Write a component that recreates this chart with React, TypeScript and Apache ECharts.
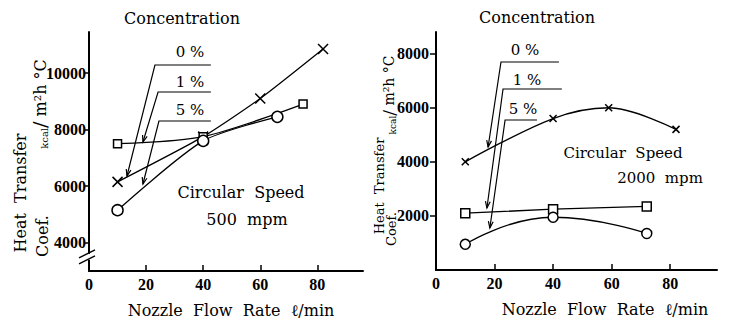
import React, { useEffect, useRef } from "react";
import * as echarts from "echarts";

// ---- tick values ----
const xTickValues = [0, 20, 40, 60, 80];
const leftYTickValues = [4000, 6000, 8000, 10000];
const rightYTickValues = [2000, 4000, 6000, 8000];
const concentrationLabels = ["0 %", "1 %", "5 %"];

// ---- Circular speed 500 mpm ----
const left0X = [10, 40, 60, 82];
const left0Y = [6150, 7750, 9100, 10850];
const left1X = [10, 40, 75];
const left1Y = [7500, 7750, 8900];
const left5X = [10, 40, 66];
const left5Y = [5150, 7600, 8450];

// ---- Circular speed 2000 mpm ----
const right0X = [10, 40, 59, 82];
const right0Y = [4000, 5600, 6000, 5200];
const right1X = [10, 40, 72];
const right1Y = [2100, 2250, 2350];
const right5X = [10, 40, 72];
const right5Y = [950, 1950, 1350];

// ---- leader annotations (data units): label x, label y, bar y, bar x0, bar x1, tip x, tip y ----
const leftNoteLabelX = [35.4, 35.4, 35.4];
const leftNoteLabelY = [10743, 9682, 8693];
const leftNoteBarY = [10283, 9329, 8304];
const leftNoteBarX0 = [23.1, 24.2, 24.5];
const leftNoteBarX1 = [42.7, 42.7, 42.7];
const leftNoteTipX = [13.3, 18.9, 18.9];
const leftNoteTipY = [6359, 7561, 6076];

const rightNoteLabelX = [30.4, 31.1, 29.7];
const rightNoteLabelY = [8135, 7025, 5953];
const rightNoteBarY = [7691, 6693, 5546];
const rightNoteBarX0 = [22.2, 22.9, 23.6];
const rightNoteBarX1 = [42.0, 43.0, 34.5];
const rightNoteTipX = [17.8, 17.4, 18.4];
const rightNoteTipY = [4548, 2292, 1553];

const zip = (xs: number[], ys: number[]) => xs.map((x, i) => [x, ys[i]]);

const SERIF = "DejaVu Serif";
const TICKFONT = "Liberation Serif";
const CROSS = "path://M0,0L10,10M10,0L0,10";

function lineSeries(
  grid: number,
  xs: number[],
  ys: number[],
  symbol: string,
  size: number,
  smooth: number | boolean
) {
  return {
    type: "line",
    xAxisIndex: grid,
    yAxisIndex: grid,
    data: zip(xs, ys),
    symbol,
    symbolSize: size,
    smooth,
    showSymbol: true,
    lineStyle: { color: "#000", width: 1.3 },
    itemStyle: { color: "#fff", borderColor: "#000", borderWidth: 1.5 },
    emphasis: { disabled: true },
    z: 3,
  };
}

const plain = (v: number) => String(v);

function xAxisDef(grid: number) {
  return {
    type: "value",
    gridIndex: grid,
    min: 0,
    max: 96,
    axisLine: { show: true, onZero: false, lineStyle: { color: "#000", width: 2 } },
    axisTick: {
      show: true,
      inside: true,
      length: 6,
      customValues: xTickValues,
      lineStyle: { color: "#000", width: 1.5 },
    },
    axisLabel: {
      customValues: xTickValues,
      formatter: plain,
      margin: 5,
      color: "#000",
      fontFamily: TICKFONT,
      fontWeight: "bold",
      fontSize: 16,
    },
    splitLine: { show: false },
  };
}

function yAxisDef(grid: number, min: number, max: number, ticks: number[], tickLen: number, margin: number) {
  return {
    type: "value",
    gridIndex: grid,
    min,
    max,
    axisLine: { show: true, onZero: false, lineStyle: { color: "#000", width: 2 } },
    axisTick: {
      show: true,
      inside: false,
      length: tickLen,
      customValues: ticks,
      lineStyle: { color: "#000", width: 1.5 },
    },
    axisLabel: {
      customValues: ticks,
      formatter: plain,
      margin,
      color: "#000",
      fontFamily: TICKFONT,
      fontWeight: "bold",
      fontSize: 16,
    },
    splitLine: { show: false },
  };
}

function txt(x: number, y: number, text: string, size: number, extra: any = {}, weight = "normal") {
  return {
    type: "text",
    x,
    y,
    silent: true,
    z: 10,
    ...extra,
    style: {
      text,
      fill: "#000",
      fontFamily: SERIF,
      fontSize: size,
      fontWeight: weight,
      align: "center",
      verticalAlign: "middle",
    },
  };
}

export default function App() {
  const ref = useRef<HTMLDivElement>(null);

  useEffect(() => {
    if (!ref.current) return;
    const chart = echarts.init(ref.current, null, { renderer: "svg" });
    chart.setOption({
      animation: false,
      backgroundColor: "#fff",
      grid: [
        { left: 89, right: 370, top: 32, bottom: 48 },
        { left: 436, right: 16, top: 32, bottom: 49 },
      ],
      xAxis: [xAxisDef(0), xAxisDef(1)],
      yAxis: [
        yAxisDef(0, 3000, 11450, leftYTickValues, 4, 3),
        yAxisDef(1, 0, 8800, rightYTickValues, 6, 7),
      ],
      series: [
        lineSeries(0, left0X, left0Y, CROSS, 10, 0.2),
        lineSeries(0, left1X, left1Y, "rect", 8, 0.3),
        lineSeries(0, left5X, left5Y, "circle", 11, 0.25),
        lineSeries(1, right0X, right0Y, CROSS, 7, 0.35),
        lineSeries(1, right1X, right1Y, "rect", 9, false),
        lineSeries(1, right5X, right5Y, "circle", 10, 0.5),
      ],
    });

    const px = (g: number, x: number, y: number) =>
      chart.convertToPixel({ gridIndex: g } as any, [x, y]) as number[];

    const els: any[] = [];
    const stroke = { stroke: "#000", lineWidth: 1.2, fill: "none" };

    const addNotes = (
      g: number,
      lx: number[],
      ly: number[],
      by: number[],
      bx0: number[],
      bx1: number[],
      tx: number[],
      ty: number[],
      fontSize: number
    ) => {
      concentrationLabels.forEach((label, i) => {
        const l = px(g, lx[i], ly[i]);
        els.push(txt(l[0], l[1], label, fontSize));
        const a = px(g, bx0[i], by[i]);
        const b = px(g, bx1[i], by[i]);
        const t = px(g, tx[i], ty[i]);
        els.push({
          type: "polyline",
          silent: true,
          z: 10,
          shape: { points: [b, a, t] },
          style: stroke,
        });
        const dx = t[0] - a[0];
        const dy = t[1] - a[1];
        const len = Math.hypot(dx, dy);
        const ux = dx / len;
        const uy = dy / len;
        const L = 7;
        const ang = 0.35;
        const w1 = [
          t[0] - L * (ux * Math.cos(ang) - uy * Math.sin(ang)),
          t[1] - L * (uy * Math.cos(ang) + ux * Math.sin(ang)),
        ];
        const w2 = [
          t[0] - L * (ux * Math.cos(-ang) - uy * Math.sin(-ang)),
          t[1] - L * (uy * Math.cos(-ang) + ux * Math.sin(-ang)),
        ];
        els.push({
          type: "polyline",
          silent: true,
          z: 10,
          shape: { points: [w1, t, w2] },
          style: stroke,
        });
      });
    };

    addNotes(0, leftNoteLabelX, leftNoteLabelY, leftNoteBarY, leftNoteBarX0, leftNoteBarX1, leftNoteTipX, leftNoteTipY, 15);
    addNotes(1, rightNoteLabelX, rightNoteLabelY, rightNoteBarY, rightNoteBarX0, rightNoteBarX1, rightNoteTipX, rightNoteTipY, 15);

    // axis break on left y axis
    const br = px(0, 0, 3500);
    els.push({
      type: "rect",
      silent: true,
      z: 11,
      shape: { x: br[0] - 3, y: br[1] - 3, width: 6, height: 6 },
      style: { fill: "#fff" },
    });
    [-3, 3].forEach((off) => {
      els.push({
        type: "line",
        silent: true,
        z: 12,
        shape: { x1: br[0] - 10, y1: br[1] + off + 4, x2: br[0] + 6, y2: br[1] + off - 4 },
        style: { stroke: "#000", lineWidth: 1.4 },
      });
    });

    // titles and texts
    els.push(txt(182, 18, "Concentration", 16));
    els.push(txt(537, 17, "Concentration", 16));
    els.push(txt(241, 192, "Circular\u00a0 Speed", 16));
    els.push(txt(247, 219, "500\u00a0 mpm", 16));
    els.push(txt(623, 153, "Circular\u00a0 Speed", 15));
    els.push(txt(660, 178, "2000\u00a0 mpm", 15));
    els.push(txt(231, 310, "Nozzle\u00a0 Flow\u00a0 Rate\u00a0 ℓ/min", 16));
    els.push(txt(605, 309, "Nozzle\u00a0 Flow\u00a0 Rate\u00a0 ℓ/min", 16));

    // y axis titles (rotated)
    const rot = { rotation: Math.PI / 2 };
    els.push(txt(20, 193, "Heat\u00a0 Transfer", 16, rot));
    els.push(txt(42, 236, "Coef.", 16, rot));
    const unit = (x: number, y: number, s: number) => ({
      type: "text",
      x,
      y,
      rotation: Math.PI / 2,
      silent: true,
      z: 10,
      style: {
        text: "{a|kcal}{b|/}{c| m²h °C}",
        fill: "#000",
        align: "center",
        verticalAlign: "middle",
        rich: {
          a: { fontSize: Math.round(s * 0.62), fontFamily: SERIF, fill: "#000", verticalAlign: "bottom" },
          b: { fontSize: Math.round(s * 1.2), fontFamily: SERIF, fill: "#000" },
          c: { fontSize: s, fontFamily: SERIF, fill: "#000" },
        },
      },
    });
    els.push(unit(40, 104, 16));
    els.push(txt(379, 186, "Heat\u00a0 Transfer", 13, rot));
    els.push(txt(391, 229, "Coef.", 13, rot));
    els.push(unit(389, 95, 14));

    chart.setOption({ graphic: { elements: els } });

    return () => chart.dispose();
  }, []);

  return (
    <div
      ref={ref}
      style={{ position: "absolute", left: 0, top: 0, width: 733, height: 319, background: "#fff" }}
    />
  );
}
